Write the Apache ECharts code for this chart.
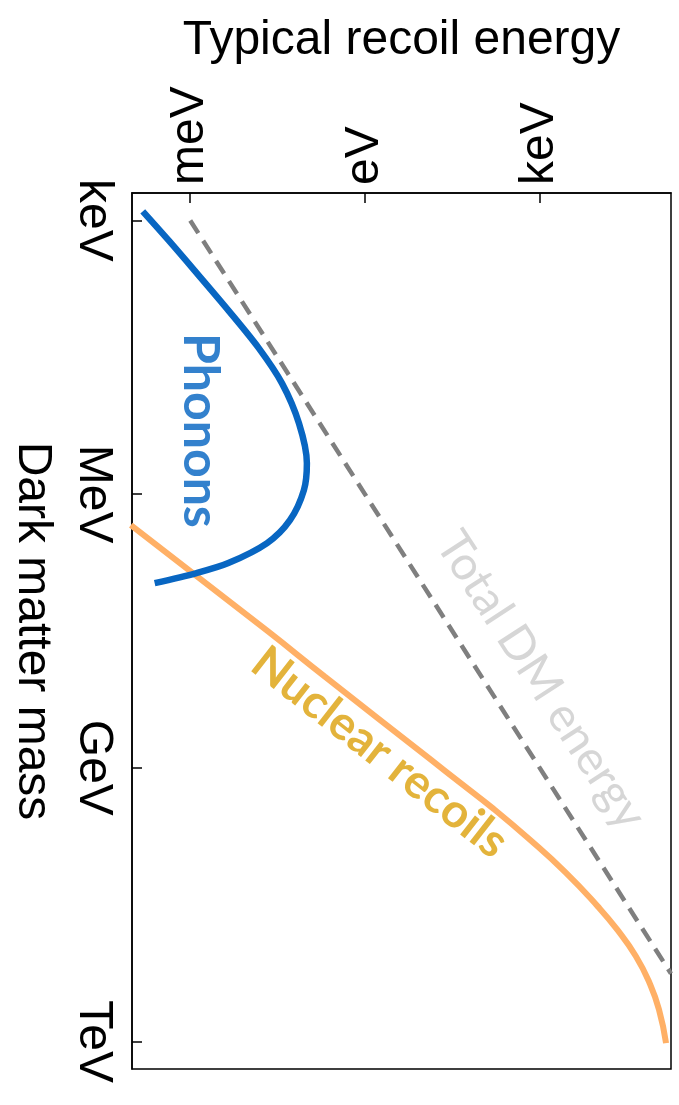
<!DOCTYPE html>
<html>
<head>
<meta charset="utf-8">
<style>
  html, body { margin: 0; padding: 0; background: #fff; }
  #chart { width: 679px; height: 1105px; }
</style>
<script src="https://cdn.jsdelivr.net/npm/echarts@6/dist/echarts.min.js"></script>
</head>
<body>
<div id="chart"></div>
<script>
// Energies and masses in eV.
const energyTicks = [1e-3, 1, 1e3];
const energyTickLabels = ['meV', 'eV', 'keV'];
const massTicks = [1e3, 1e6, 1e9, 1e12];
const massTickLabels = ['keV', 'MeV', 'GeV', 'TeV'];

// Total DM kinetic energy (dashed)
const totalEnergy = [1e-3, 1.8e5];
const totalMass = [1e3, 1.8e11];

// Phonon curve
const phononEnergy = [1.53e-4, 4.26e-4, 1.18e-3, 4.51e-3, 0.0147, 0.0377, 0.0736, 0.1007, 0.0895, 0.0516, 0.0209, 4.51e-3, 1.28e-3, 2.45e-4];
const phononMass = [796, 1656, 3524, 9660, 24600, 61000, 167000, 458000, 904000, 1.93e6, 3.44e6, 5.70e6, 7.33e6, 9.44e6];

// Nuclear recoil curve
const nuclearEnergy = [9.55e-5, 0.0201, 0.205, 13.7, 44.1, 162, 652, 2750, 9930, 2.15e4, 4.49e4, 7.71e4, 1.12e5, 1.48e5];
const nuclearMass = [2.19e6, 3.08e7, 1.0e8, 8.19e8, 1.47e9, 2.82e9, 6.0e9, 1.39e10, 3.30e10, 5.94e10, 1.16e11, 2.28e11, 4.47e11, 1.04e12];

const pairs = (xs, ys) => xs.map((x, i) => [x, ys[i]]);

const labelFont = 'Lato, "Open Sans", sans-serif';
const axisFont = '"Liberation Sans", Arial, Helvetica, sans-serif';

const pickLabel = (ticks, names) => v =>
  names[ticks.findIndex(t => Math.abs(Math.log10(t) - Math.log10(v)) < 1e-6)] || '';

const chart = echarts.init(document.getElementById('chart'), null, { renderer: 'canvas' });

chart.setOption({
  animation: false,
  backgroundColor: '#fff',
  grid: {
    left: 129, top: 193, right: 8, bottom: 36,
    show: true, borderColor: '#000', borderWidth: 1.5, backgroundColor: 'transparent'
  },
  xAxis: {
    type: 'log', logBase: 10, position: 'top',
    min: 1e-4, max: 1.8e5,
    name: 'Typical recoil energy', nameLocation: 'middle', nameGap: 128,
    nameTextStyle: { fontFamily: axisFont, fontSize: 48, color: '#000' },
    axisLine: { show: true, lineStyle: { color: '#000', width: 1.5 } },
    axisTick: { show: true, inside: true, length: 10, customValues: energyTicks, lineStyle: { color: '#000', width: 1.5 } },
    minorTick: { show: false },
    splitLine: { show: false },
    axisLabel: {
      customValues: energyTicks,
      rotate: -90, margin: 8,
      fontFamily: axisFont, fontSize: 48, color: '#000',
      formatter: pickLabel(energyTicks, energyTickLabels)
    }
  },
  yAxis: {
    type: 'log', logBase: 10, inverse: true,
    min: 500, max: 2e12,
    name: 'Dark matter mass', nameLocation: 'middle', nameGap: 76, nameRotate: -90,
    nameTextStyle: { fontFamily: axisFont, fontSize: 48, color: '#000' },
    axisLine: { show: true, lineStyle: { color: '#000', width: 1.5 } },
    axisTick: { show: true, inside: true, length: 10, customValues: massTicks, lineStyle: { color: '#000', width: 1.5 } },
    minorTick: { show: false },
    splitLine: { show: false },
    axisLabel: {
      customValues: massTicks,
      rotate: -90, margin: 15,
      fontFamily: axisFont, fontSize: 48, color: '#000',
      formatter: pickLabel(massTicks, massTickLabels)
    }
  },
  series: [
    {
      name: 'Total DM energy', type: 'line', showSymbol: false, clip: true,
      data: pairs(totalEnergy, totalMass),
      lineStyle: { color: '#7f7f7f', width: 4.5, type: [15, 9] }
    },
    {
      name: 'Nuclear recoils', type: 'line', showSymbol: false, clip: true, smooth: 0.5,
      data: pairs(nuclearEnergy, nuclearMass),
      lineStyle: { color: '#ffb066', width: 6, cap: 'butt' }
    },
    {
      name: 'Phonons', type: 'line', showSymbol: false, clip: true, smooth: 0.3,
      data: pairs(phononEnergy, phononMass),
      lineStyle: { color: '#0866c2', width: 6.5, cap: 'butt' }
    },
    {
      name: 'labels', type: 'scatter', symbolSize: 0, silent: true,
      data: [
        { value: [1.5e-3, 2.0e5], label: { show: true, formatter: 'Phonons', rotate: -90, color: '#0062c0', fontSize: 50, fontWeight: 'bold' } },
        { value: [1050, 1.1e8], label: { show: true, formatter: 'Total DM energy', rotate: -57, color: '#cccccc', fontSize: 47, fontWeight: 'normal' } },
        { value: [1.8, 6.8e8], label: { show: true, formatter: 'Nuclear recoils', rotate: -38, color: '#dca00a', fontSize: 47, fontWeight: 'bold' } }
      ],
      label: { position: 'inside', fontFamily: labelFont, align: 'center', verticalAlign: 'middle' }
    }
  ]
});
</script>
</body>
</html>
